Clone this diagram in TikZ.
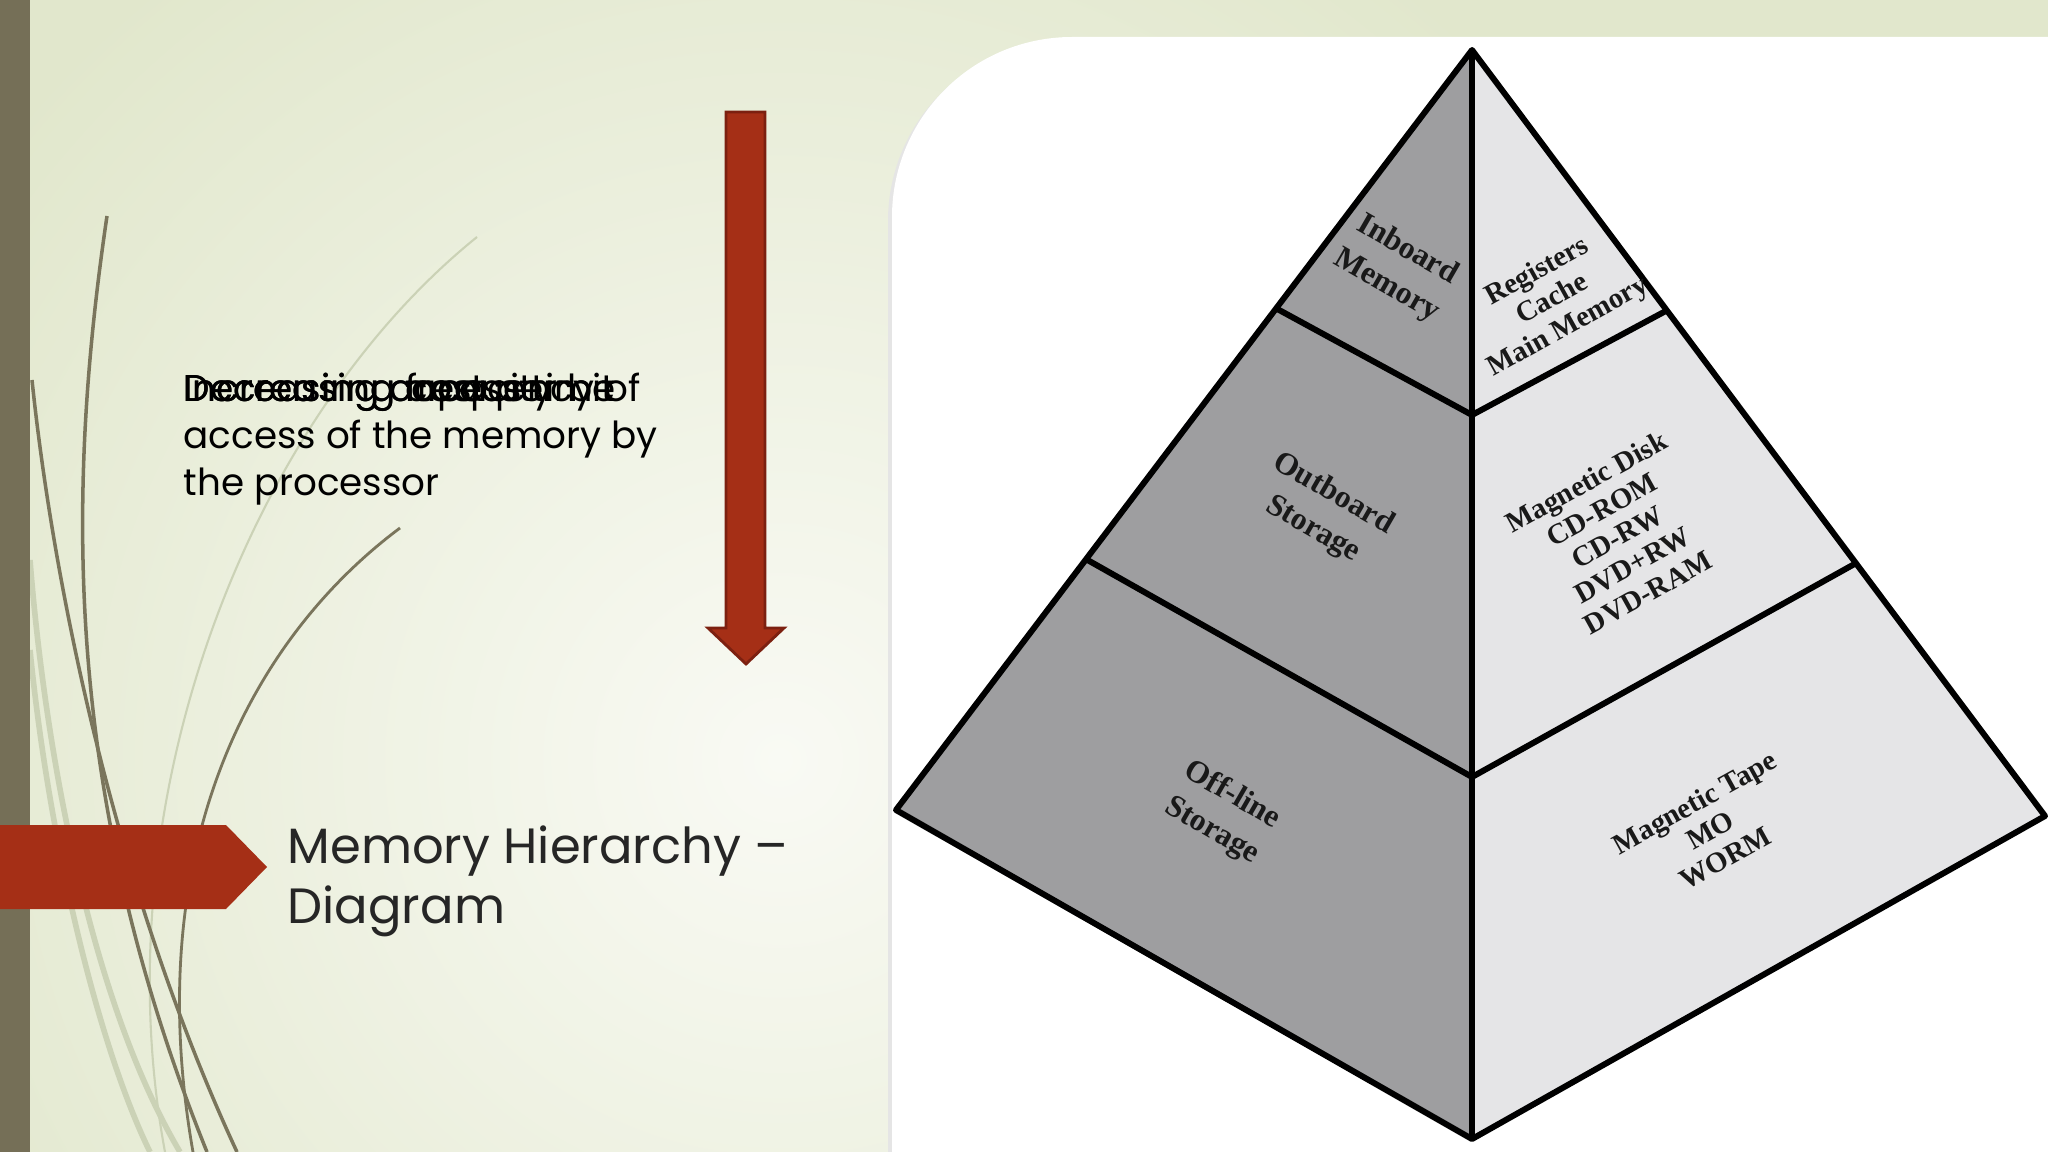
\documentclass[tikz,border=0pt]{standalone}
\usepackage{fontspec}
\setmainfont{Poppins}
\newfontfamily\pyrfont{Liberation Serif}
\usetikzlibrary{calc}
\definecolor{bgedge}{HTML}{E1E7CC}
\definecolor{bgmid}{HTML}{F9FAF4}
\definecolor{barolive}{HTML}{756F57}
\definecolor{swdark}{HTML}{7A755C}
\definecolor{swlight}{HTML}{CBD2B6}
\definecolor{rust}{HTML}{A52F16}
\definecolor{rustdark}{HTML}{7C2010}
\definecolor{facedark}{HTML}{9E9EA0}
\definecolor{facelight}{HTML}{E5E5E7}
\tikzset{
	swdarkline/.style={draw=swdark, line width=1pt},
	swlightline/.style={draw=swlight, line width=1.6pt},
	pyredge/.style={draw=black, line width=1.7pt, line join=round},
	leftlbl/.style={font=\pyrfont\bfseries\fontsize{9}{11.5}\selectfont, text=black!90, align=center, rotate=-30, inner sep=0pt},
	rightlbl/.style={font=\pyrfont\bfseries\fontsize{8.2}{9}\selectfont, text=black!90, align=center, rotate=29, inner sep=0pt},
	sidetext/.style={font=\fontsize{10.6}{13.4}\selectfont, anchor=north west, align=left, inner sep=0pt},
}
\begin{document}
\begin{tikzpicture}[x=0.01cm, y=-0.01cm]
		\useasboundingbox (0,0) rectangle (2048,1152);
		\fill[bgedge] (0,0) rectangle (2048,1152);
		\begin{scope}
			\clip (0,0) rectangle (2048,1152);
			\shade[inner color=bgmid, outer color=bgedge] (780,760) circle (1000);
		\end{scope}
		\draw[swlightline] (30,560) .. controls (45,750) and (90,1000) .. (180,1152);
		\draw[swlightline] (30,650) .. controls (50,850) and (100,1050) .. (150,1152);
		\draw[swlightline, line width=0.6pt] (477,237) .. controls (250,420) and (100,800) .. (165,1152);
		\draw[swdarkline] (107,216) .. controls (65,500) and (65,800) .. (207,1152);
		\draw[swdarkline] (32,380) .. controls (55,600) and (120,900) .. (237,1152);
		\draw[swdarkline, line width=0.8pt] (400,528) .. controls (250,640) and (140,850) .. (193,1152);
		\fill[barolive] (0,0) rectangle (30,1152);
		\fill[rust] (0,825) -- (226,825) -- (267,867) -- (226,909) -- (0,909) -- cycle;
		\filldraw[fill=rust, draw=rustdark, line width=0.8pt] (726,112) -- (765,112) -- (765,628) -- (784,628) -- (746,664) -- (708,628) -- (726,628) -- cycle;
		\node[sidetext] (freq) at (183,368) {\strut Decreasing frequency of\\access of the memory by\\the processor};
		\node[sidetext] (cost) at (183,368) {\strut Decreasing cost per bit};
		\node[sidetext] (capacity) at (183,368) {\strut Increasing capacity};
		\node[sidetext] (acctime) at (183,368) {\strut Increasing access time};
		\node[anchor=north west, font=\fontsize{14.1}{17}\selectfont, text=black!85, align=left, inner sep=0pt] (title) at (287,821) {\strut Memory Hierarchy –\\Diagram};
		\fill[black!10, rounded corners=1.8cm] (888,41) rectangle (2300,1400);
		\fill[white, rounded corners=1.8cm] (892,37) rectangle (2300,1400);
		\coordinate (apex) at (1472,50);
		\coordinate (lft) at (896,810);
		\coordinate (rgt) at (2045,816);
		\coordinate (bot) at (1472,1139);
		\coordinate (mid1) at (1472,415);
		\coordinate (mid2) at (1472,777);
		\fill[facedark] (apex) -- (lft) -- (bot) -- cycle;
		\fill[facelight] (apex) -- (rgt) -- (bot) -- cycle;
		\draw[pyredge] (apex) -- (lft) -- (bot) -- (rgt) -- cycle;
		\draw[pyredge] (apex) -- (bot);
		\draw[pyredge] ($(apex)!0.34!(lft)$) -- (mid1) -- ($(apex)!0.34!(rgt)$);
		\draw[pyredge] ($(apex)!0.67!(lft)$) -- (mid2) -- ($(apex)!0.67!(rgt)$);
		\node[leftlbl] (inboard) at (1397,268) {Inboard\\Memory};
		\node[rightlbl] (regs) at (1553,300) {Registers\\Cache\\Main Memory};
		\node[leftlbl] (outboard) at (1323,512) {Outboard\\Storage};
		\node[rightlbl] (disks) at (1617,537) {Magnetic Disk\\CD-ROM\\CD-RW\\DVD+RW\\DVD-RAM};
		\node[leftlbl] (offline) at (1222,813) {Off-line\\Storage};
		\node[rightlbl] (tapes) at (1710,830) {Magnetic Tape\\MO\\WORM};
\end{tikzpicture}
\end{document}
